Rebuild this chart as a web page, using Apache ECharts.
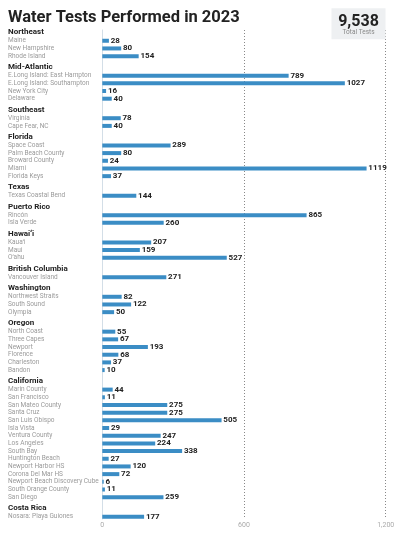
<!DOCTYPE html>
<html><head><meta charset="utf-8">
<script src="https://cdn.jsdelivr.net/npm/echarts@6/dist/echarts.min.js"></script>
<style>html,body{margin:0;padding:0;background:#fff}#c{width:400px;height:540px}</style>
</head><body><div id="c"></div>
<script>
const regions = ['Northeast','Mid-Atlantic','Southeast','Florida','Texas','Puerto Rico','Hawaiʻi','British Columbia','Washington','Oregon','California','Costa Rica'];
const sites = [
  ['Maine','New Hampshire','Rhode Island'],
  ['E.Long Island: East Hampton','E.Long Island: Southampton','New York City','Delaware'],
  ['Virginia','Cape Fear, NC'],
  ['Space Coast','Palm Beach County','Broward County','Miami','Florida Keys'],
  ['Texas Coastal Bend'],
  ['Rincón','Isla Verde'],
  ['Kauaʻi','Maui','Oʻahu'],
  ['Vancouver Island'],
  ['Northwest Straits','South Sound','Olympia'],
  ['North Coast','Three Capes','Newport','Florence','Charleston','Bandon'],
  ['Marin County','San Francisco','San Mateo County','Santa Cruz','San Luis Obispo','Isla Vista','Ventura County','Los Angeles','South Bay','Huntington Beach','Newport Harbor HS','Corona Del Mar HS','Newport Beach Discovery Cube','South Orange County','San Diego'],
  ['Nosara: Playa Guiones']
];
const tests = [
  [28,80,154],
  [789,1027,16,40],
  [78,40],
  [289,80,24,1119,37],
  [144],
  [865,260],
  [207,159,527],
  [271],
  [82,122,50],
  [55,67,193,68,37,10],
  [44,11,275,275,505,29,247,224,338,27,120,72,6,11,259],
  [177]
];
const xTicks = [0,600,1200];
const title = 'Water Tests Performed in 2023';
const totalLabel = 'Total Tests';

// layout (in row units)
const HEADER_STEP = 1.1, GROUP_STEP = 1.44;
const rows = [];
let pos = 0;
regions.forEach((r, gi) => {
  if (gi > 0) pos += GROUP_STEP;
  rows.push({name: r, header: true, pos: pos, value: 0});
  sites[gi].forEach((s, i) => {
    pos += (i === 0 ? HEADER_STEP : 1);
    rows.push({name: s, header: false, pos: pos, value: tests[gi][i]});
  });
});
const maxPos = pos;
const total = tests.flat().reduce((a, b) => a + b, 0);

const FONT = 'Roboto, "Noto Sans", sans-serif';
const LABEL_X = 8;
const BAR_H = 4;

const chart = echarts.init(document.getElementById('c'), null, {renderer: 'canvas'});
chart.setOption({
  animation: false,
  backgroundColor: '#fff',
  title: {
    text: title, left: 3, top: 4,
    textStyle: {fontFamily: FONT, fontSize: 16.5, fontWeight: 'bold', color: '#222'}
  },
  grid: {left: 102.3, right: 14.3, top: 30, bottom: 21},
  xAxis: {
    type: 'value', min: xTicks[0], max: xTicks[xTicks.length - 1], interval: xTicks[1] - xTicks[0],
    axisLine: {show: false}, axisTick: {show: false},
    axisLabel: {fontFamily: FONT, fontSize: 7, color: '#aaa', margin: 3},
    splitLine: {show: true, lineStyle: {color: '#888', width: 1, type: [1, 2]}}
  },
  yAxis: {
    type: 'value', inverse: true, min: -0.3, max: maxPos + 0.3,
    axisLine: {show: true, lineStyle: {color: '#d3dee7', width: 1}},
    axisTick: {show: false}, axisLabel: {show: false}, splitLine: {show: false}
  },
  graphic: [
    {type: 'rect', z: 100, shape: {x: 331.5, y: 8.3, width: 54, height: 31}, style: {fill: '#eef0f2'}},
    {type: 'text', z: 101, style: {x: 358.5, y: 21.5, text: total.toLocaleString('en-US'), align: 'center', verticalAlign: 'middle',
      font: 'bold 16px ' + FONT, fill: '#222'}},
    {type: 'text', z: 101, style: {x: 358.5, y: 32.8, text: totalLabel, align: 'center', verticalAlign: 'middle',
      font: '6.5px ' + FONT, fill: '#888'}}
  ],
  series: [{
    type: 'custom',
    clip: false,
    data: rows.map(r => [r.value, r.pos]),
    renderItem: function (params, api) {
      const row = rows[params.dataIndex];
      const p0 = api.coord([0, api.value(1)]);
      const children = [{
        type: 'text',
        style: {
          x: LABEL_X, y: p0[1], text: row.name, align: 'left', verticalAlign: 'middle',
          font: row.header ? ('bold 8px ' + FONT) : ('6.5px ' + FONT),
          fill: row.header ? '#222' : '#9a9a9a'
        }
      }];
      if (!row.header) {
        const p1 = api.coord([api.value(0), api.value(1)]);
        children.push({
          type: 'rect',
          shape: {x: p0[0], y: p0[1] - BAR_H / 2, width: p1[0] - p0[0], height: BAR_H},
          style: {fill: '#3b8dc5'}
        });
        children.push({
          type: 'text',
          style: {
            x: p1[0] + 1.8, y: p0[1], text: String(row.value), align: 'left', verticalAlign: 'middle',
            font: 'bold 8px ' + FONT, fill: '#222'
          }
        });
      }
      return {type: 'group', children: children};
    }
  }]
});
</script>
</body></html>
